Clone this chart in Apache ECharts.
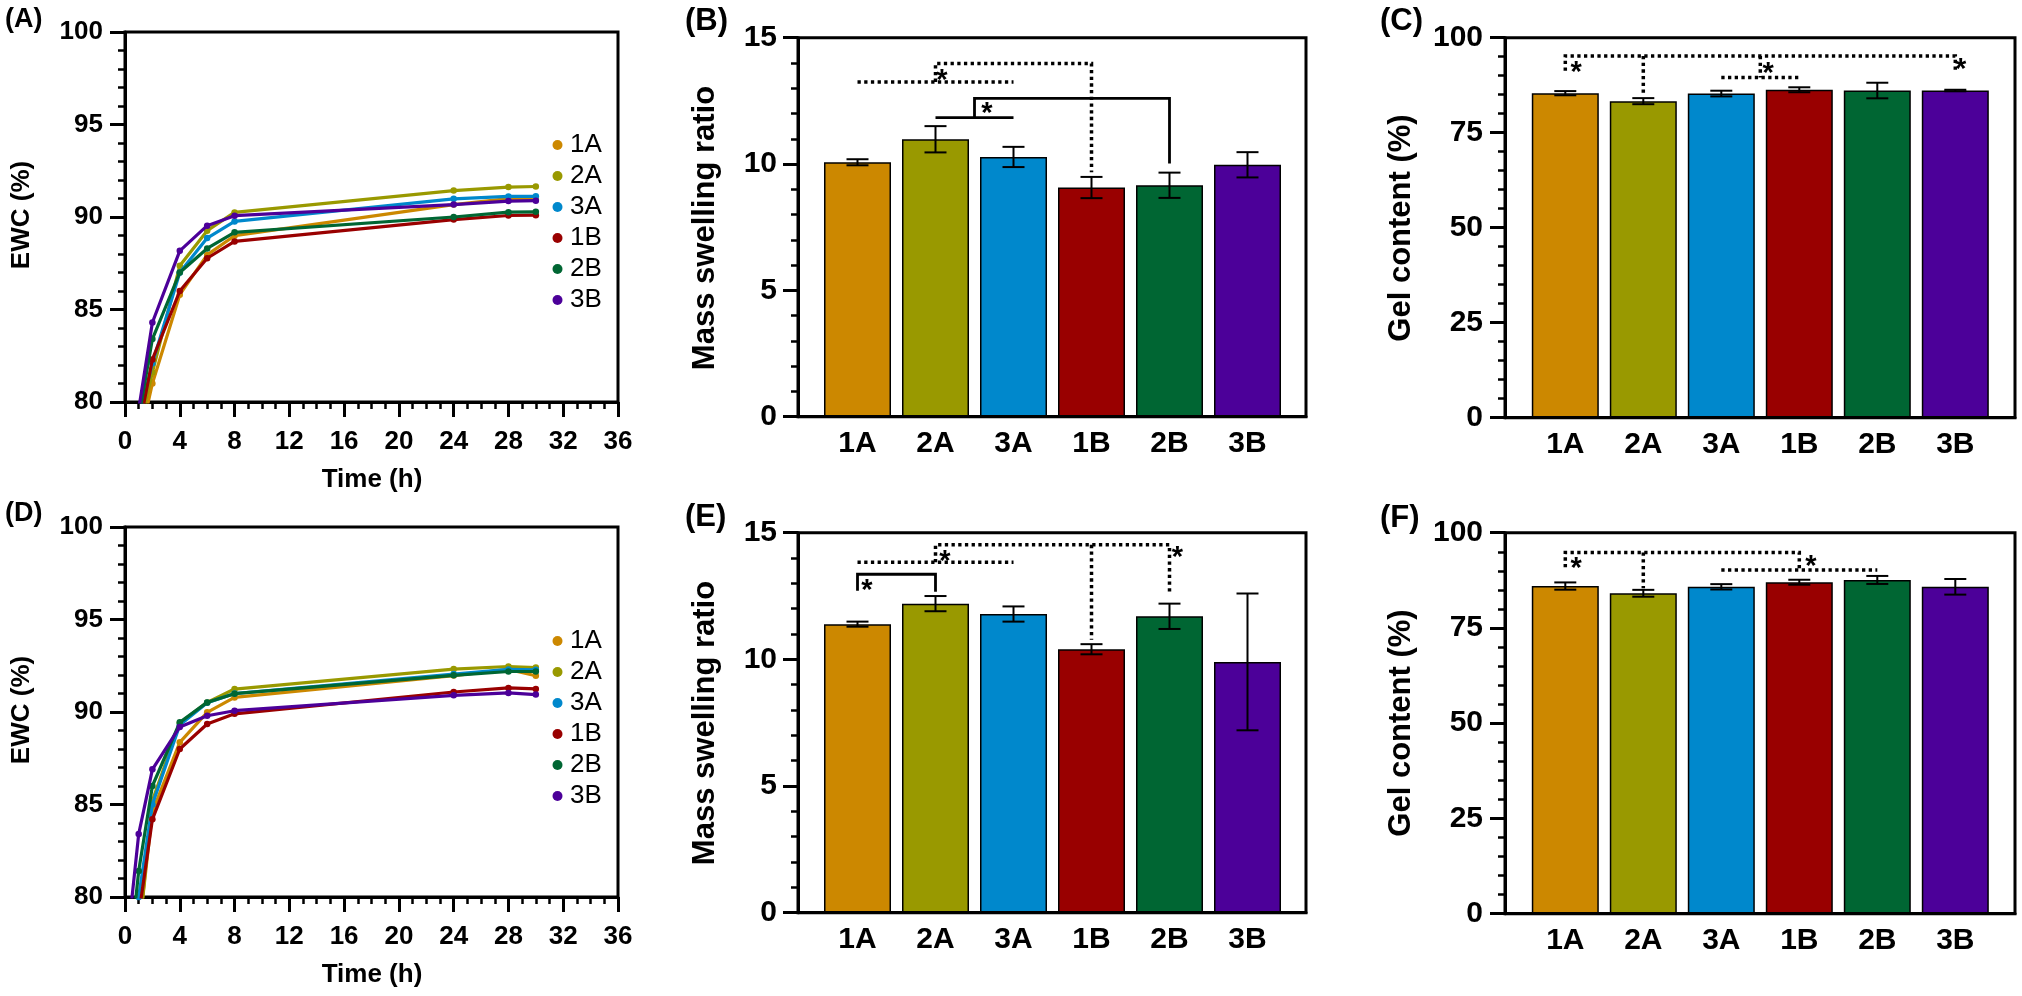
<!DOCTYPE html>
<html>
<head>
<meta charset="utf-8">
<title>EWC, mass swelling ratio and gel content</title>
<script src="https://cdn.jsdelivr.net/npm/echarts@6.0.0/dist/echarts.min.js"></script>
<style>
  html, body { margin: 0; padding: 0; background: #fff; }
  #chart { width: 2022px; height: 996px; }
</style>
</head>
<body>
<div id="chart"></div>
<script>
// sample groups
const groups = ['1A', '2A', '3A', '1B', '2B', '3B'];

// (A) EWC (%) vs time, one row per group in the order above
const timeA = [1, 2, 4, 6, 8, 24, 28, 30];
const ewcA = [
  [77.7, 81.0, 85.8, 87.95, 88.99, 90.67, 90.99, 90.95],
  [78.4, 81.6, 87.36, 89.26, 90.25, 91.43, 91.62, 91.65],
  [79.1, 82.1, 87.0, 88.86, 89.76, 90.98, 91.11, 91.12],
  [78.5, 82.3, 86.0, 87.77, 88.68, 89.86, 90.08, 90.1],
  [79.15, 83.4, 87.0, 88.3, 89.17, 90.0, 90.26, 90.28],
  [79.6, 84.3, 88.17, 89.53, 90.07, 90.67, 90.86, 90.88]
];

// (D) EWC (%) vs time
const timeD = [0.5, 1, 2, 4, 6, 8, 24, 28, 30];
const ewcD = [
  [null, 78.0, 84.6, 88.36, 89.98, 90.79, 91.97, 92.3, 91.96],
  [null, 77.8, 85.2, 89.4, 90.52, 91.24, 92.32, 92.46, 92.4],
  [null, 80.0, 85.0, 89.3, 90.5, 91.0, 92.05, 92.3, 92.28],
  [null, 79.0, 84.2, 88.0, 89.35, 89.9, 91.08, 91.3, 91.25],
  [77.9, 81.4, 86.0, 89.44, 90.52, 90.99, 91.98, 92.19, 92.19],
  [79.9, 83.4, 86.9, 89.19, 89.8, 90.07, 90.9, 91.03, 90.94]
];

// (B) / (E) mass swelling ratio, mean and error
const swellB = [10.07, 10.98, 10.28, 9.07, 9.16, 9.97];
const swellBErr = [0.12, 0.52, 0.4, 0.42, 0.5, 0.5];
const swellE = [11.39, 12.2, 11.79, 10.4, 11.7, 9.9];
const swellEErr = [0.1, 0.3, 0.3, 0.2, 0.5, 2.7];

// (C) / (F) gel content (%), mean and error
const gelC = [85.4, 83.3, 85.3, 86.3, 86.1, 86.1];
const gelCErr = [0.55, 0.8, 0.75, 0.65, 2.05, 0.2];
const gelF = [86.0, 84.1, 85.8, 87.0, 87.6, 85.8];
const gelFErr = [0.95, 0.9, 0.7, 0.65, 1.05, 2.05];

// significance brackets: points are [category index, value]
const bracketsB = [
  { dotted: true, pts: [[0, 13.25], [2, 13.25]] },
  { dotted: true, pts: [[1, 13.25], [1, 13.98], [3, 13.98], [3, 9.67]] },
  { dotted: false, pts: [[1, 11.84], [2, 11.84]] },
  { dotted: false, pts: [[1.5, 11.84], [1.5, 12.6], [4, 12.6], [4, 10.02]] }
];
const starsB = [[1.083, 13.52], [1.66, 12.21]];

const bracketsE = [
  { dotted: false, pts: [[0, 12.71], [0, 13.36], [1, 13.36], [1, 12.67]] },
  { dotted: true, pts: [[0, 13.83], [2, 13.83]] },
  { dotted: true, pts: [[1, 13.83], [1, 14.52], [4, 14.52], [4, 12.67]] },
  { dotted: true, pts: [[3, 14.52], [3, 10.77]] }
];
const starsE = [[0.12, 12.94], [1.12, 14.08], [4.1, 14.25]];

const bracketsC = [
  { dotted: true, pts: [[0, 91.3], [0, 95.2], [5, 95.2], [5, 91.5]] },
  { dotted: true, pts: [[1, 95.2], [1, 84.9]] },
  { dotted: true, pts: [[2.5, 95.2], [2.5, 89.5]] },
  { dotted: true, pts: [[2, 89.5], [3, 89.5]] }
];
const starsC = [[0.14, 92.3], [2.6, 92.1], [5.07, 93.0]];

const bracketsF = [
  { dotted: true, pts: [[0, 90.9], [0, 94.8], [3, 94.8], [3, 90.2]] },
  { dotted: true, pts: [[1, 94.8], [1, 85.4]] },
  { dotted: true, pts: [[2, 90.2], [4, 90.2]] }
];
const starsF = [[0.14, 92.1], [3.15, 92.6]];

const FONT = '"Liberation Sans", Arial, Helvetica, sans-serif';
const palette = ['#CC8800', '#999900', '#0088CC', '#990000', '#006633', '#4C0099'];

const chart = echarts.init(document.getElementById('chart'));

// 0 A, 1 D, 2-5 frames of B E C F, 6-9 bar grids of B E C F
const grids = [
  { left: 125, top: 32, width: 493, height: 370 },
  { left: 125, top: 527, width: 493, height: 370 },
  { left: 798, top: 37.7, width: 508, height: 379 },
  { left: 798, top: 532.7, width: 508, height: 380 },
  { left: 1505, top: 37.7, width: 510, height: 380 },
  { left: 1505, top: 532.7, width: 510, height: 381 },
  { left: 818.5, top: 37.7, width: 468, height: 379 },
  { left: 818.5, top: 532.7, width: 468, height: 380 },
  { left: 1526.3, top: 37.7, width: 468, height: 380 },
  { left: 1526.3, top: 532.7, width: 468, height: 381 }
].map((g, i) => Object.assign(g, {
  show: i < 6, borderColor: '#000', borderWidth: 3,
  backgroundColor: 'transparent', containLabel: false, outerBoundsMode: 'none'
}));

const blackLine = { color: '#000', width: 3 };

function valueY(gi, min, max, interval, fontSize, margin) {
  return {
    gridIndex: gi, type: 'value', min: min, max: max, interval: interval,
    axisLine: { show: true, lineStyle: blackLine },
    axisTick: { show: true, inside: false, length: 15, lineStyle: blackLine },
    minorTick: { show: true, splitNumber: 5, length: 7, lineStyle: { color: '#000', width: 2.5 } },
    splitLine: { show: false },
    axisLabel: { color: '#000', fontFamily: FONT, fontWeight: 'bold', fontSize: fontSize, margin: margin }
  };
}

function timeX(gi) {
  return {
    gridIndex: gi, type: 'value', min: 0, max: 36, interval: 4,
    axisLine: { show: true, lineStyle: blackLine },
    axisTick: { show: true, inside: false, length: 15, lineStyle: blackLine },
    minorTick: { show: true, splitNumber: 4, length: 7, lineStyle: { color: '#000', width: 2.5 } },
    splitLine: { show: false },
    axisLabel: { color: '#000', fontFamily: FONT, fontWeight: 'bold', fontSize: 26, margin: 27 }
  };
}

function frameX(gi) {
  return {
    gridIndex: gi, type: 'value', min: 0, max: 1, z: 5,
    axisLine: { show: true, lineStyle: blackLine },
    axisTick: { show: false }, axisLabel: { show: false }, splitLine: { show: false }
  };
}

function catX(gi) {
  return {
    gridIndex: gi, type: 'category', data: groups,
    axisLine: { show: false }, axisTick: { show: false }, splitLine: { show: false },
    axisLabel: { color: '#000', fontFamily: FONT, fontWeight: 'bold', fontSize: 30, margin: 12 }
  };
}

function hiddenY(gi, min, max) {
  return { gridIndex: gi, type: 'value', min: min, max: max, show: false, splitLine: { show: false } };
}

const xAxes = [timeX(0), timeX(1), frameX(2), frameX(3), frameX(4), frameX(5),
  catX(6), catX(7), catX(8), catX(9)];
const yAxes = [
  valueY(0, 80, 100, 5, 26, 22), valueY(1, 80, 100, 5, 26, 22),
  valueY(2, 0, 15, 5, 30, 21), valueY(3, 0, 15, 5, 30, 21),
  valueY(4, 0, 100, 25, 30, 22), valueY(5, 0, 100, 25, 30, 22),
  hiddenY(6, 0, 15), hiddenY(7, 0, 15), hiddenY(8, 0, 100), hiddenY(9, 0, 100)
];

function lineSeries(axis, times, rows) {
  return rows.map((row, k) => ({
    type: 'line', name: groups[k], xAxisIndex: axis, yAxisIndex: axis,
    data: times.map((t, j) => [t, row[j]]),
    symbol: 'circle', symbolSize: 6.5, showSymbol: true, clip: true, z: 2 + k,
    lineStyle: { width: 3.2, color: palette[k] },
    itemStyle: { color: palette[k] }
  }));
}

function barSeries(axis, means) {
  return {
    type: 'bar', name: 'bars' + axis, xAxisIndex: axis, yAxisIndex: axis, barWidth: 67,
    data: means.map((m, i) => ({ value: m, itemStyle: { color: palette[i] } })),
    itemStyle: { borderColor: '#000', borderWidth: 1.5 }, z: 2
  };
}

function errorSeries(axis, means, errs) {
  return {
    type: 'custom', xAxisIndex: axis, yAxisIndex: axis, z: 4, silent: true,
    data: means.map((m, i) => [i, m, errs[i]]),
    encode: { x: 0, y: 1 },
    renderItem: function (params, api) {
      const i = api.value(0), m = api.value(1), e = api.value(2);
      const hi = api.coord([i, m + e]);
      const lo = api.coord([i, m - e]);
      const x = hi[0], w = 11;
      const st = { stroke: '#000', lineWidth: 2 };
      return {
        type: 'group', children: [
          { type: 'line', shape: { x1: x, y1: hi[1], x2: x, y2: lo[1] }, style: st },
          { type: 'line', shape: { x1: x - w, y1: hi[1], x2: x + w, y2: hi[1] }, style: st },
          { type: 'line', shape: { x1: x - w, y1: lo[1], x2: x + w, y2: lo[1] }, style: st }
        ]
      };
    }
  };
}

function bracketSeries(axis, lines, stars) {
  return {
    type: 'custom', xAxisIndex: axis, yAxisIndex: axis, z: 5, silent: true,
    data: [[0, 0]],
    renderItem: function (params, api) {
      // category positions in between bars come from the axis step
      const px = (c, v) => {
        const a = api.coord([0, v]);
        const b = api.coord([1, v]);
        return [a[0] + c * (b[0] - a[0]), a[1]];
      };
      const children = [];
      lines.forEach(l => {
        children.push({
          type: 'polyline',
          shape: { points: l.pts.map(p => px(p[0], p[1])) },
          style: { stroke: '#000', fill: 'none', lineWidth: l.dotted ? 3.5 : 2.8, lineDash: l.dotted ? [3.3, 3.4] : null }
        });
      });
      stars.forEach(s => {
        const p = px(s[0], s[1]);
        children.push({
          type: 'text', x: p[0], y: p[1] + 6,
          style: { text: '*', fontSize: 29, fontWeight: 'bold', fontFamily: FONT, fill: '#000', align: 'center', verticalAlign: 'middle' }
        });
      });
      return { type: 'group', children: children };
    }
  };
}

function legendAt(top) {
  return {
    data: groups, orient: 'vertical', left: 547.5, top: top, icon: 'circle',
    itemWidth: 15, itemHeight: 10, itemGap: 5, selectedMode: false,
    textStyle: { color: '#000', fontFamily: FONT, fontSize: 26, lineHeight: 26 }
  };
}

function label(text, x, y, size, rotated) {
  return {
    type: 'text', x: x, y: y, rotation: rotated ? Math.PI / 2 : 0,
    style: {
      text: text, fill: '#000', fontFamily: FONT, fontWeight: 'bold', fontSize: size,
      align: rotated ? 'center' : (text.charAt(0) === '(' ? 'left' : 'center'), verticalAlign: 'middle'
    }
  };
}

chart.setOption({
  animation: false,
  backgroundColor: '#fff',
  textStyle: { fontFamily: FONT, color: '#000' },
  grid: grids,
  xAxis: xAxes,
  yAxis: yAxes,
  legend: [legendAt(127), legendAt(623)],
  graphic: [
    label('(A)', 5, 20, 27), label('(D)', 5, 514, 27),
    label('(B)', 685, 21, 31), label('(E)', 685, 517, 31),
    label('(C)', 1380, 21, 31), label('(F)', 1380, 518, 31),
    label('EWC (%)', 22, 215, 26, true), label('EWC (%)', 22, 710, 26, true),
    label('Time (h)', 372, 480, 26), label('Time (h)', 372, 975, 26),
    label('Mass swelling ratio', 705, 228, 31, true), label('Mass swelling ratio', 705, 723, 31, true),
    label('Gel content (%)', 1401, 228, 31, true), label('Gel content (%)', 1401, 723, 31, true)
  ],
  series: [].concat(
    lineSeries(0, timeA, ewcA),
    lineSeries(1, timeD, ewcD),
    barSeries(6, swellB), errorSeries(6, swellB, swellBErr), bracketSeries(6, bracketsB, starsB),
    barSeries(7, swellE), errorSeries(7, swellE, swellEErr), bracketSeries(7, bracketsE, starsE),
    barSeries(8, gelC), errorSeries(8, gelC, gelCErr), bracketSeries(8, bracketsC, starsC),
    barSeries(9, gelF), errorSeries(9, gelF, gelFErr), bracketSeries(9, bracketsF, starsF)
  )
});
</script>
</body>
</html>
